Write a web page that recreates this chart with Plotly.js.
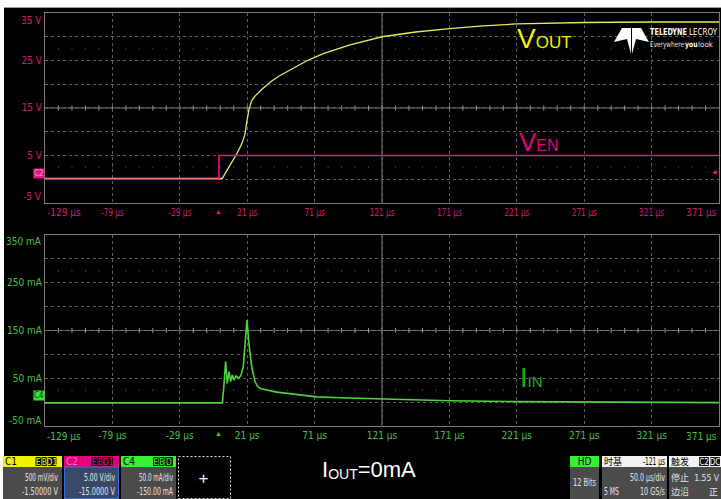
<!DOCTYPE html>
<html><head><meta charset="utf-8">
<script src="https://cdn.plot.ly/plotly-3.0.1.min.js"></script>
<style>
html,body{margin:0;padding:0;background:#fff;width:721px;height:499px;overflow:hidden;}
#chart{position:absolute;left:4px;top:7px;width:717px;height:492px;}
#overlay{position:absolute;left:0;top:0;pointer-events:none;}
</style></head><body>
<div id="chart"></div>
<svg id="overlay" width="721" height="499" xmlns="http://www.w3.org/2000/svg" font-family="Liberation Sans Narrow, DejaVu Sans Condensed, Arial Narrow, sans-serif">
  <line x1="4" y1="7.5" x2="721" y2="7.5" stroke="#9a9a9a"/>
  <!-- logo -->
  <polygon points="622,28 631,28 631,54 627,39 614,42" fill="#fff"/>
  <polygon points="632,28 641,28 649,42 636,39 632,54" fill="#fff"/>
  <text x="650" y="35" font-size="9" font-weight="bold" fill="#fff" textLength="37" lengthAdjust="spacingAndGlyphs">TELEDYNE</text>
  <text x="689" y="35" font-size="9" fill="#fff" textLength="28" lengthAdjust="spacingAndGlyphs">LECROY</text>
  <text x="650" y="47" font-size="7.8" fill="#e0e0e0" textLength="34" lengthAdjust="spacingAndGlyphs">Everywhere</text>
  <text x="685" y="47" font-size="7.8" font-weight="bold" fill="#fff" textLength="12.5" lengthAdjust="spacingAndGlyphs">you</text>
  <text x="698" y="47" font-size="7.8" fill="#e0e0e0" textLength="15" lengthAdjust="spacingAndGlyphs">look</text>
  <!-- IOUT label -->
  <text x="322" y="477" font-family="Liberation Sans, Arial, sans-serif" font-size="22" fill="#fff">I<tspan font-size="14" dy="2">OUT</tspan><tspan dy="-2">=0mA</tspan></text>
  <!-- C1 -->
  <rect x="3" y="456" width="59" height="11" fill="#f2f200"/>
  <text x="5" y="465" font-size="10" fill="#000">C1</text>
  <rect x="35.5" y="457" width="5.5" height="9" rx="1" fill="#111"/><text x="38.25" y="465" font-size="8.5" fill="#f2f200" text-anchor="middle">E</text>
  <rect x="41.5" y="457" width="5.5" height="9" rx="1" fill="#111"/><text x="44.25" y="465" font-size="8.5" fill="#f2f200" text-anchor="middle">B</text>
  <rect x="47.5" y="457" width="9" height="9" rx="1" fill="#111"/><text x="52" y="465" font-size="8.5" fill="#f2f200" text-anchor="middle">D1</text>
  <rect x="3" y="467" width="59" height="32" fill="#4b4b4b"/>
  <text x="58" y="481" font-size="10.5" fill="#e4e4e4" text-anchor="end" textLength="33" lengthAdjust="spacingAndGlyphs">500 mV/div</text>
  <text x="58" y="495" font-size="10.5" fill="#e4e4e4" text-anchor="end" textLength="36" lengthAdjust="spacingAndGlyphs">-1.50000 V</text>
  <!-- C2 -->
  <rect x="64" y="456" width="55" height="11" fill="#e4007c"/>
  <text x="66" y="465" font-size="10" fill="#ff70b8">C2</text>
  <rect x="91.5" y="457" width="5.5" height="9" rx="1" fill="#111"/><text x="94.25" y="465" font-size="8.5" fill="#e4007c" text-anchor="middle">E</text>
  <rect x="97.5" y="457" width="5.5" height="9" rx="1" fill="#111"/><text x="100.25" y="465" font-size="8.5" fill="#e4007c" text-anchor="middle">B</text>
  <rect x="103.5" y="457" width="9.5" height="9" rx="1" fill="#111"/><text x="108.25" y="465" font-size="8.5" fill="#e4007c" text-anchor="middle">D1</text>
  <rect x="64.5" y="467" width="54" height="31.5" fill="#3a4868" stroke="#3b6fd4" stroke-width="1"/>
  <text x="115" y="481" font-size="10.5" fill="#e4e4e4" text-anchor="end" textLength="31" lengthAdjust="spacingAndGlyphs">5.00 V/div</text>
  <text x="115" y="495" font-size="10.5" fill="#e4e4e4" text-anchor="end" textLength="36" lengthAdjust="spacingAndGlyphs">-15.0000 V</text>
  <!-- C4 -->
  <rect x="121" y="456" width="55" height="11" fill="#35f035"/>
  <text x="123" y="465" font-size="10" fill="#000">C4</text>
  <rect x="153" y="457" width="5.5" height="9" rx="1" fill="#111"/><text x="155.75" y="465" font-size="8.5" fill="#35f035" text-anchor="middle">E</text>
  <rect x="159" y="457" width="5.5" height="9" rx="1" fill="#111"/><text x="161.75" y="465" font-size="8.5" fill="#35f035" text-anchor="middle">B</text>
  <rect x="165" y="457" width="8" height="9" rx="1" fill="#111"/><text x="169" y="465" font-size="8.5" fill="#35f035" text-anchor="middle">D</text>
  <rect x="121" y="467" width="55" height="32" fill="#4b4b4b"/>
  <text x="173" y="481" font-size="10.5" fill="#e4e4e4" text-anchor="end" textLength="34" lengthAdjust="spacingAndGlyphs">50.0 mA/div</text>
  <text x="173" y="495" font-size="10.5" fill="#e4e4e4" text-anchor="end" textLength="36" lengthAdjust="spacingAndGlyphs">-150.00 mA</text>
  <!-- add box -->
  <rect x="178.5" y="456.5" width="52" height="42" fill="none" stroke="#ddd" stroke-dasharray="2,2"/>
  <text x="203.5" y="484" font-size="17" fill="#fff" text-anchor="middle" font-family="Liberation Sans, Arial, sans-serif">+</text>
  <!-- HD -->
  <rect x="570" y="456" width="29" height="11" fill="#35f035"/>
  <text x="584.5" y="465" font-size="10" fill="#000" text-anchor="middle">HD</text>
  <rect x="570" y="467" width="29" height="32" fill="#4b4b4b"/>
  <text x="584.5" y="485.5" font-size="10.5" fill="#e4e4e4" text-anchor="middle" textLength="23" lengthAdjust="spacingAndGlyphs">12 Bits</text>
  <!-- timebase -->
  <rect x="602" y="456" width="65" height="11" fill="#f2f2f2"/>
  <text x="604" y="465" font-size="9" fill="#000" font-family="Noto Sans CJK SC, sans-serif">时基</text>
  <text x="665" y="465" font-size="10" fill="#000" text-anchor="end" textLength="22" lengthAdjust="spacingAndGlyphs">-121 µs</text>
  <rect x="602" y="467" width="65" height="32" fill="#4b4b4b"/>
  <text x="665" y="481" font-size="10.5" fill="#e4e4e4" text-anchor="end" textLength="35" lengthAdjust="spacingAndGlyphs">50.0 µs/div</text>
  <text x="604" y="495" font-size="10.5" fill="#e4e4e4" textLength="15" lengthAdjust="spacingAndGlyphs">5 MS</text>
  <text x="665" y="495" font-size="10.5" fill="#e4e4e4" text-anchor="end" textLength="25" lengthAdjust="spacingAndGlyphs">10 GS/s</text>
  <!-- trigger -->
  <rect x="669" y="456" width="52" height="11" fill="#f2f2f2"/>
  <text x="671" y="465" font-size="9" fill="#000" font-family="Noto Sans CJK SC, sans-serif">触发</text>
  <rect x="699" y="457" width="10" height="9" rx="1" fill="#111"/><text x="704" y="465" font-size="8" fill="#fff" text-anchor="middle">C2</text>
  <rect x="710" y="457" width="10" height="9" rx="1" fill="#111"/><text x="715" y="465" font-size="8" fill="#fff" text-anchor="middle">DC</text>
  <rect x="669" y="467" width="52" height="32" fill="#4b4b4b"/>
  <text x="671" y="480.5" font-size="9" fill="#e4e4e4" font-family="Noto Sans CJK SC, sans-serif">停止</text>
  <text x="719" y="481" font-size="8.5" fill="#e4e4e4" text-anchor="end">1.55 V</text>
  <text x="671" y="495" font-size="9" fill="#e4e4e4" font-family="Noto Sans CJK SC, sans-serif">边沿</text>
  <text x="718" y="495" font-size="9" fill="#e4e4e4" text-anchor="end" font-family="Noto Sans CJK SC, sans-serif">正</text>
</svg>
<script>
// ---- data ----
const timeVen = [-129, 0, 0, 371];            // µs
const ven     = [0, 0, 5, 5];                 // V
const timeVout = [-129, 2.5, 7.5, 13.2, 16.9, 19.4, 20.6, 22.3, 24.3, 26.8, 31.7, 39.2, 45, 51.5, 58, 66.3, 78, 96, 121, 146, 171, 196, 221, 246, 271, 321, 371];
const vout     = [0.15, 0.15, 2.6, 5.3, 7.4, 9.5, 11.9, 14.7, 16.5, 17.5, 18.9, 20.7, 21.8, 22.8, 23.9, 25.1, 26.5, 28.2, 30.0, 31.0, 31.7, 32.3, 32.7, 32.9, 33.0, 33.1, 33.1];
const timeIin = [-129, 2.6, 3.6, 5.0, 6.2, 7.5, 8.7, 9.9, 11.2, 12.7, 14.4, 16.2, 18.1, 19.4, 20.8, 22.3, 24.3, 26.8, 28.5, 30.5, 32.9, 42.9, 55.2, 72.5, 96, 121, 146, 171, 221, 271, 321, 371];
const iin     = [-1.5, -1.5, 30, 85, 39, 64, 43, 57, 46, 55, 50, 55, 74, 116, 172, 123, 74, 43, 34, 29, 27, 21, 17, 11, 8.5, 6.5, 4.5, 3, 1, 0, -0.5, -1];
const xTickVals = [-79, -29, 21, 71, 121, 171, 221, 271, 321];
const xTickText = ['-79 µs', '-29 µs', '21 µs', '71 µs', '121 µs', '171 µs', '221 µs', '271 µs', '321 µs'];
const xEdgeText = ['-129 µs', '371 µs'];
const vTickVals = [0, 5, 10, 15, 20, 25, 30];
const vTickText = ['', '5 V', '', '15 V', '', '25 V', ''];
const vEdgeText = ['35 V', '-5 V'];
const iTickVals = [0, 50, 100, 150, 200, 250, 300];
const iTickText = ['', '50 mA', '', '150 mA', '', '250 mA', ''];
const iEdgeText = ['350 mA', '-50 mA'];
const timeRange = [-129, 371];
const vRange = [-5, 35];
const iRange = [-50, 350];
const triggerTime = 0;
const triggerLevel = 1.55;

// ---- styling ----
const FONT = 'Liberation Sans Narrow, DejaVu Sans Condensed, Arial Narrow, sans-serif';
const MAG = '#e3167c', YEL = '#e8e85e', GRN = '#4cd43c';
const MAG_LBL = '#d41a70', GRN_LBL = '#44c238';
const GRID = '#5e5e5e';

const axBase = {showline: true, mirror: true, linecolor: '#7c7c7c', linewidth: 1, zeroline: false,
  ticks: '', showgrid: true, gridcolor: GRID, griddash: 'dot', gridwidth: 1, fixedrange: true, tickmode: 'array'};

const traces = [
  {x: timeVout, y: vout, mode: 'lines', line: {color: YEL, width: 1.3}, xaxis: 'x', yaxis: 'y', name: 'VOUT'},
  {x: timeVen, y: ven, mode: 'lines', line: {color: MAG, width: 1.6}, xaxis: 'x', yaxis: 'y', name: 'VEN'},
  {x: timeIin, y: iin, mode: 'lines', line: {color: GRN, width: 1.6}, xaxis: 'x2', yaxis: 'y2', name: 'IIN'}
];

// grid decorations (center lines with division ticks)
const shapes = [];
const vCenter = 15, iCenter = 150, tCenter = 121;
const CL = '#7a7a7a';
shapes.push({type: 'line', xref: 'x', yref: 'y', x0: timeRange[0], x1: timeRange[1], y0: vCenter, y1: vCenter, line: {color: CL, width: 1}, layer: 'below'});
shapes.push({type: 'line', xref: 'x', yref: 'y', x0: tCenter, x1: tCenter, y0: vRange[0], y1: vRange[1], line: {color: CL, width: 1}, layer: 'below'});
shapes.push({type: 'line', xref: 'x2', yref: 'y2', x0: timeRange[0], x1: timeRange[1], y0: iCenter, y1: iCenter, line: {color: CL, width: 1}, layer: 'below'});
shapes.push({type: 'line', xref: 'x2', yref: 'y2', x0: tCenter, x1: tCenter, y0: iRange[0], y1: iRange[1], line: {color: CL, width: 1}, layer: 'below'});
for (let t = timeRange[0] + 10; t < timeRange[1]; t += 10) {
  [['x', 'y', vCenter, 2.5, '#999'], ['x2', 'y2', iCenter, 2.5, '#999'],
   ['x', 'y', vCenter + 12.5, 1, '#3e3e3e'], ['x', 'y', vCenter - 12.5, 1, '#3e3e3e'],
   ['x2', 'y2', iCenter + 125, 1, '#3e3e3e'], ['x2', 'y2', iCenter - 125, 1, '#3e3e3e']].forEach(([xr, yr, yc, h, c]) => {
    shapes.push({type: 'line', xref: xr, yref: yr, x0: t, x1: t, ysizemode: 'pixel', yanchor: yc, y0: -h, y1: h, line: {color: c, width: 1}, layer: 'below'});
  });
}

const annotations = [
  // edge tick labels
  {xref: 'x', yref: 'y domain', x: timeRange[0], y: 0, text: xEdgeText[0], xanchor: 'left', yanchor: 'middle', yshift: -10, showarrow: false, font: {family: FONT, size: 10, color: MAG_LBL}},
  {xref: 'x', yref: 'y domain', x: timeRange[1], y: 0, text: xEdgeText[1], xanchor: 'right', yanchor: 'middle', yshift: -10, showarrow: false, font: {family: FONT, size: 10, color: MAG_LBL}},
  {xref: 'x2', yref: 'y2 domain', x: timeRange[0], y: 0, text: xEdgeText[0], xanchor: 'left', yanchor: 'middle', yshift: -10, showarrow: false, font: {family: FONT, size: 10, color: GRN_LBL}},
  {xref: 'x2', yref: 'y2 domain', x: timeRange[1], y: 0, text: xEdgeText[1], xanchor: 'right', yanchor: 'middle', yshift: -10, showarrow: false, font: {family: FONT, size: 10, color: GRN_LBL}},
  {xref: 'paper', yref: 'y', x: 0, y: vRange[1], text: vEdgeText[0], xanchor: 'right', yanchor: 'middle', xshift: -1, yshift: -7, showarrow: false, font: {family: FONT, size: 10, color: MAG_LBL}},
  {xref: 'paper', yref: 'y', x: 0, y: vRange[0], text: vEdgeText[1], xanchor: 'right', yanchor: 'middle', xshift: -1, yshift: 6, showarrow: false, font: {family: FONT, size: 10, color: MAG_LBL}},
  {xref: 'paper', yref: 'y2', x: 0, y: iRange[1], text: iEdgeText[0], xanchor: 'right', yanchor: 'middle', xshift: -1, yshift: -7, showarrow: false, font: {family: FONT, size: 10, color: GRN_LBL}},
  {xref: 'paper', yref: 'y2', x: 0, y: iRange[0], text: iEdgeText[1], xanchor: 'right', yanchor: 'middle', xshift: -1, yshift: 5, showarrow: false, font: {family: FONT, size: 10, color: GRN_LBL}},
  // trigger markers
  {xref: 'x', yref: 'y domain', x: triggerTime, y: 0, text: '▲', xanchor: 'center', yanchor: 'top', yshift: -2, showarrow: false, font: {size: 7, color: MAG}},
  {xref: 'x2', yref: 'y2 domain', x: triggerTime, y: 0, text: '▲', xanchor: 'center', yanchor: 'top', yshift: -1, showarrow: false, font: {size: 7, color: GRN}},
  // channel markers
  {xref: 'paper', yref: 'y', x: 0, y: 1.3, text: 'C2', xanchor: 'right', yanchor: 'middle', showarrow: false, bgcolor: MAG, borderpad: 0, font: {family: FONT, size: 8, color: '#ff9fcf'}},
  {xref: 'paper', yref: 'y2', x: 0, y: 14, text: 'C4', xanchor: 'right', yanchor: 'middle', showarrow: false, bgcolor: '#39e039', borderpad: 0, font: {family: FONT, size: 8, color: '#0a3a0a'}},
  {xref: 'paper', yref: 'y', x: 1, y: triggerLevel, text: '◀', xanchor: 'right', yanchor: 'middle', showarrow: false, font: {size: 6, color: MAG}},
  // signal labels
  {xref: 'x', yref: 'y', x: 219.5, y: 29.7, text: 'V<span style="font-size:17px">OUT</span>', xanchor: 'left', yanchor: 'middle', showarrow: false, font: {family: 'Liberation Sans, Arial, sans-serif', size: 28, color: '#f2f200'}},
  {xref: 'x', yref: 'y', x: 221, y: 7.9, text: 'V<span style="font-size:16px">EN</span>', xanchor: 'left', yanchor: 'middle', showarrow: false, font: {family: 'Liberation Sans, Arial, sans-serif', size: 26, color: '#e0007f'}},
  {xref: 'x2', yref: 'y2', x: 222, y: 50, text: 'I<span style="font-size:15px">IN</span>', xanchor: 'left', yanchor: 'middle', showarrow: false, font: {family: 'Liberation Sans, Arial, sans-serif', size: 27, color: '#22aa22'}}
];

const layout = {
  width: 717, height: 492,
  margin: {l: 41, r: 2, t: 6, b: 73},
  paper_bgcolor: '#000', plot_bgcolor: '#000',
  showlegend: false,
  xaxis: Object.assign({}, axBase, {domain: [0, 1], anchor: 'y', range: timeRange, tickvals: xTickVals, ticktext: xTickText, tickfont: {family: FONT, size: 10, color: MAG_LBL}}),
  yaxis: Object.assign({}, axBase, {domain: [0.540, 1], anchor: 'x', range: vRange, tickvals: vTickVals, ticktext: vTickText, tickfont: {family: FONT, size: 10, color: MAG_LBL}}),
  xaxis2: Object.assign({}, axBase, {domain: [0, 1], anchor: 'y2', range: timeRange, tickvals: xTickVals, ticktext: xTickText, tickfont: {family: FONT, size: 10, color: GRN_LBL}}),
  yaxis2: Object.assign({}, axBase, {domain: [0, 0.4625], anchor: 'x2', range: iRange, tickvals: iTickVals, ticktext: iTickText, tickfont: {family: FONT, size: 10, color: GRN_LBL}}),
  shapes: shapes,
  annotations: annotations
};

Plotly.newPlot('chart', traces, layout, {displayModeBar: false, staticPlot: true}).then(() => {
  document.querySelectorAll('#chart .xtick text').forEach(t => {
    const w = t.getComputedTextLength();
    if (w > 0) { t.setAttribute('textLength', (w * 0.82).toFixed(1)); t.setAttribute('lengthAdjust', 'spacingAndGlyphs'); }
  });
});
</script>
</body></html>
